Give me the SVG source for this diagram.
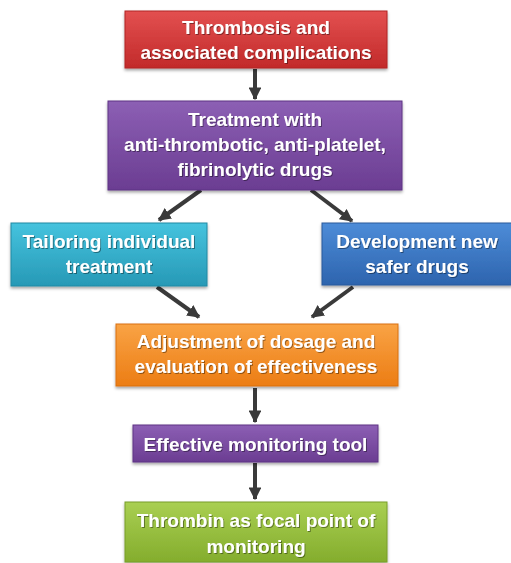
<svg xmlns="http://www.w3.org/2000/svg" width="511" height="563" viewBox="0 0 511 563">
<defs>
<linearGradient id="gRed" x1="0" y1="0" x2="0" y2="1"><stop offset="0" stop-color="#e35050"/><stop offset="1" stop-color="#c22a2a"/></linearGradient>
<linearGradient id="gPur" x1="0" y1="0" x2="0" y2="1"><stop offset="0" stop-color="#8c5fb4"/><stop offset="1" stop-color="#6b3d92"/></linearGradient>
<linearGradient id="gCyan" x1="0" y1="0" x2="0" y2="1"><stop offset="0" stop-color="#45c3de"/><stop offset="1" stop-color="#2799b6"/></linearGradient>
<linearGradient id="gBlue" x1="0" y1="0" x2="0" y2="1"><stop offset="0" stop-color="#4d8cd8"/><stop offset="1" stop-color="#2d64ae"/></linearGradient>
<linearGradient id="gOr" x1="0" y1="0" x2="0" y2="1"><stop offset="0" stop-color="#f9a345"/><stop offset="1" stop-color="#ec7d14"/></linearGradient>
<linearGradient id="gGr" x1="0" y1="0" x2="0" y2="1"><stop offset="0" stop-color="#a9cf52"/><stop offset="1" stop-color="#84ad2d"/></linearGradient>
<filter id="sh" x="-10%" y="-10%" width="120%" height="130%"><feDropShadow dx="0" dy="2" stdDeviation="1.5" flood-color="#000" flood-opacity="0.35"/></filter>
<filter id="tsh" x="-10%" y="-20%" width="120%" height="140%"><feDropShadow dx="1" dy="1" stdDeviation="0.6" flood-color="#000" flood-opacity="0.4"/></filter>
<marker id="ah" viewBox="0 0 10 10" refX="9" refY="5" markerWidth="3.2" markerHeight="3.2" orient="auto" markerUnits="strokeWidth"><path d="M0,0 L10,5 L0,10 z" fill="#3a3a3a"/></marker>
</defs>
<style>
.box{stroke-width:1;filter:url(#sh)}
.t{font-family:"Liberation Sans",Arial,sans-serif;font-weight:bold;font-size:19px;fill:#ffffff;text-anchor:middle;filter:url(#tsh)}
.c{stroke:#3a3a3a;stroke-width:4;fill:none;marker-end:url(#ah)}
</style>
<g id="connectors">
<line class="c" x1="255" y1="69" x2="255" y2="99"/>
<line class="c" x1="201" y1="190" x2="159" y2="220"/>
<line class="c" x1="311" y1="190" x2="352" y2="221"/>
<line class="c" x1="157" y1="287" x2="199" y2="317"/>
<line class="c" x1="353" y1="287" x2="312" y2="317"/>
<line class="c" x1="255" y1="388" x2="255" y2="422"/>
<line class="c" x1="255" y1="463" x2="255" y2="499"/>
</g>
<g id="n1">
<rect class="box" x="125" y="11" width="262" height="57" fill="url(#gRed)" stroke="#b02424"/>
<text class="t" x="256" y="33.5">Thrombosis and</text>
<text class="t" x="256" y="58.5">associated complications</text>
</g>
<g id="n2">
<rect class="box" x="108" y="101" width="294" height="89" fill="url(#gPur)" stroke="#5e3484"/>
<text class="t" x="255" y="126">Treatment with</text>
<text class="t" x="255" y="151">anti-thrombotic, anti-platelet,</text>
<text class="t" x="255" y="176">fibrinolytic drugs</text>
</g>
<g id="n3">
<rect class="box" x="11" y="223" width="196" height="63" fill="url(#gCyan)" stroke="#2289a3"/>
<text class="t" x="109" y="248">Tailoring individual</text>
<text class="t" x="109" y="273">treatment</text>
</g>
<g id="n4">
<rect class="box" x="322" y="223" width="190" height="62" fill="url(#gBlue)" stroke="#285a9c"/>
<text class="t" x="417" y="248">Development new</text>
<text class="t" x="417" y="273">safer drugs</text>
</g>
<g id="n5">
<rect class="box" x="116" y="324" width="282" height="62" fill="url(#gOr)" stroke="#d9700f"/>
<text class="t" x="256" y="348">Adjustment of dosage and</text>
<text class="t" x="256" y="373">evaluation of effectiveness</text>
</g>
<g id="n6">
<rect class="box" x="133" y="425" width="245" height="37" fill="url(#gPur)" stroke="#5e3484"/>
<text class="t" x="255.5" y="451">Effective monitoring tool</text>
</g>
<g id="n7">
<rect class="box" x="125" y="502" width="262" height="60" fill="url(#gGr)" stroke="#789e28"/>
<text class="t" x="256" y="527">Thrombin as focal point of</text>
<text class="t" x="256" y="553">monitoring</text>
</g>
</svg>
